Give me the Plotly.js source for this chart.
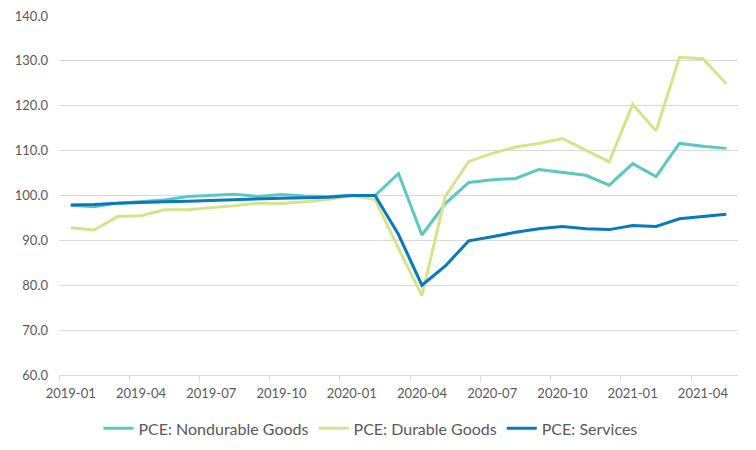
<!DOCTYPE html>
<html>
<head>
<meta charset="utf-8">
<script src="https://cdn.plot.ly/plotly-3.0.1.min.js"></script>
<style>html,body{margin:0;padding:0;background:#fff;}#chart{width:756px;height:450px;}</style>
</head>
<body>
<div id="chart"></div>
<script>
const months = ["2019-01","2019-02","2019-03","2019-04","2019-05","2019-06","2019-07","2019-08","2019-09","2019-10","2019-11","2019-12",
  "2020-01","2020-02","2020-03","2020-04","2020-05","2020-06","2020-07","2020-08","2020-09","2020-10","2020-11","2020-12",
  "2021-01","2021-02","2021-03","2021-04","2021-05"];
const nondurable = [97.8,97.5,98.3,98.7,99.0,99.8,100.1,100.3,99.8,100.2,99.9,99.8,
  100.0,100.0,104.9,91.2,98.2,102.9,103.5,103.8,105.8,105.1,104.5,102.3,
  107.1,104.2,111.6,111.0,110.5];
const durable = [92.8,92.3,95.3,95.5,96.8,96.8,97.3,97.7,98.3,98.2,98.6,99.1,
  100.0,99.1,88.2,77.7,99.8,107.6,109.4,110.8,111.6,112.7,110.1,107.5,
  120.3,114.4,130.8,130.5,124.9];
const services = [97.9,98.0,98.3,98.5,98.6,98.7,98.9,99.0,99.2,99.4,99.5,99.6,
  100.0,100.0,91.3,80.0,84.3,89.9,90.8,91.8,92.6,93.1,92.6,92.4,
  93.3,93.1,94.8,95.3,95.8];
const seriesNames = ["PCE: Nondurable Goods","PCE: Durable Goods","PCE: Services"];
const seriesColors = ["#5BC7C2","#D5E48A","#0A78BF"];
const seriesData = [nondurable, durable, services];

const traces = seriesData.map((ys, k) => ({
  type: "scatter", mode: "lines", x: months, y: ys, name: seriesNames[k],
  line: {color: seriesColors[k], width: 3}, hoverinfo: "skip"
}));

const fam = "Lato, 'Open Sans', sans-serif";
const layout = {
  width: 756, height: 450,
  margin: {l: 59, r: 18, t: 16, b: 75},
  paper_bgcolor: "#fff", plot_bgcolor: "#fff",
  font: {family: fam, size: 13, color: "#595959"},
  showlegend: true,
  legend: {orientation: "h", xref: "container", yref: "container", x: 0.49, xanchor: "center",
    y: 0.048, yanchor: "middle",
    font: {family: fam, size: 16, color: "#595959"}, traceorder: "normal", itemwidth: 30},
  xaxis: {
    type: "category", range: [-0.5, 28.5], dtick: 3, tickson: "boundaries", tickangle: 0,
    showgrid: false, showline: true, linecolor: "#d9d9d9", linewidth: 1,
    ticks: "outside", ticklen: 5, tickcolor: "#d9d9d9", zeroline: false, ticklabelstandoff: 6,
    tickfont: {family: fam, size: 13, color: "#595959"}, fixedrange: true
  },
  yaxis: {
    range: [60, 140], dtick: 10, tick0: 60, tickformat: ".1f",
    showgrid: true, gridcolor: "#d9d9d9", gridwidth: 1, showline: false, zeroline: false,
    ticks: "", ticklabelstandoff: 10,
    tickfont: {family: fam, size: 13, color: "#595959"}, fixedrange: true
  }
};
Plotly.newPlot("chart", traces, layout, {staticPlot: true, displayModeBar: false});
</script>
</body>
</html>
